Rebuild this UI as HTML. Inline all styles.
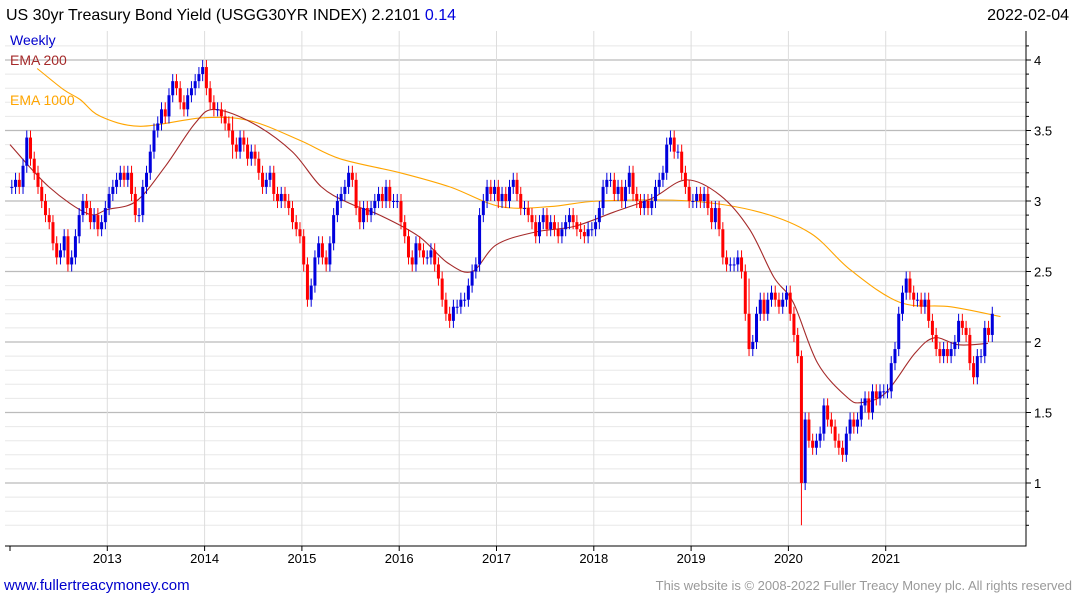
<!DOCTYPE html>
<html><head><meta charset="utf-8"><style>
body{margin:0;background:#fff;font-family:"Liberation Sans",sans-serif;}
svg{display:block}
</style></head><body>
<svg id="chart" width="1075" height="600" xmlns="http://www.w3.org/2000/svg">
<text x="6" y="20" font-size="16" fill="#000">US 30yr Treasury Bond Yield (USGG30YR INDEX) 2.2101 <tspan fill="#0000dd">0.14</tspan></text>
<text x="1069" y="20" font-size="16" text-anchor="end" fill="#000">2022-02-04</text>
<g id="grid"></g><g id="emas"></g><g id="bars"></g><g id="axes"></g>
<text x="10" y="45" font-size="14" fill="#0000cc">Weekly</text>
<text x="10" y="65" font-size="14" fill="#a52a2a">EMA 200</text>
<text x="10" y="105" font-size="14" fill="#ffa500">EMA 1000</text>
<text x="4" y="590" font-size="15" fill="#0000cc">www.fullertreacymoney.com</text>
<text x="1072" y="590" font-size="13" text-anchor="end" fill="#999">This website is © 2008-2022 Fuller Treacy Money plc. All rights reserved</text>
</svg>
<script>
const startYear = 2012.0;
const closes = [
3.1,3.15,3.1,3.25,3.45,3.3,3.2,3.1,3.0,2.9,2.85,2.7,2.6,2.65,2.75,2.55,2.6,2.75,2.9,3.0,2.95,2.85,2.9,2.8,2.85,2.95,
3.05,3.1,3.15,3.2,3.15,3.2,3.05,2.9,2.9,3.1,3.2,3.35,3.5,3.55,3.65,3.6,3.75,3.85,3.8,3.7,3.65,3.75,3.8,3.85,3.9,3.95,
3.8,3.7,3.65,3.65,3.6,3.55,3.5,3.4,3.35,3.45,3.4,3.3,3.35,3.3,3.2,3.1,3.15,3.2,3.05,3.0,3.05,3.0,2.95,2.85,2.8,2.75,
2.55,2.3,2.4,2.6,2.7,2.6,2.55,2.7,2.9,3.0,3.05,3.1,3.2,3.15,2.95,2.85,2.95,2.9,2.95,3.0,3.05,3.0,3.1,3.0,3.0,3.0,
2.85,2.75,2.6,2.55,2.7,2.65,2.6,2.6,2.65,2.55,2.45,2.3,2.2,2.15,2.25,2.25,2.3,2.3,2.4,2.5,2.55,2.9,3.0,3.1,3.05,3.1,
3.0,3.05,3.0,3.1,3.15,3.05,2.95,2.95,2.9,2.85,2.75,2.85,2.9,2.8,2.85,2.8,2.75,2.8,2.85,2.9,2.85,2.8,2.78,2.75,2.8,2.8,
2.85,2.95,3.1,3.15,3.15,3.05,3.1,3.0,3.1,3.2,3.05,3.0,2.95,3.0,2.95,3.0,3.1,3.15,3.2,3.4,3.45,3.35,3.35,3.2,3.1,3.0,
3.0,3.05,3.0,3.05,2.95,2.85,2.95,2.8,2.6,2.55,2.55,2.55,2.6,2.5,2.2,1.95,2.0,2.2,2.3,2.2,2.3,2.35,2.3,2.25,2.3,2.35,
2.2,2.05,1.9,1.0,1.45,1.3,1.25,1.3,1.35,1.55,1.45,1.4,1.3,1.25,1.2,1.35,1.45,1.4,1.45,1.55,1.6,1.5,1.65,1.6,1.65,1.65,
1.65,1.85,1.95,2.2,2.35,2.45,2.35,2.3,2.3,2.25,2.3,2.15,2.05,1.95,1.9,1.95,1.9,1.95,2.0,2.15,2.1,2.05,1.85,1.75,1.9,1.9,
2.1,2.05,2.2];
const spikeIndex = [211, 4, 59, 197];
const spikeHigh = [1.94, 3.5, 3.6, 2.45];
const spikeLow = [0.7, 3.2, 3.3, 1.9];
const ema200Dates = [2012.0,2012.4,2012.8,2013.0,2013.3,2013.6,2013.9,2014.1,2014.5,2014.9,2015.2,2015.5,2015.8,2016.2,2016.5,2016.75,2017.0,2017.4,2017.8,2018.2,2018.6,2018.95,2019.3,2019.6,2019.85,2020.05,2020.3,2020.6,2020.75,2021.0,2021.3,2021.5,2021.75,2022.05];
const ema200Vals = [3.4,3.1,2.91,2.94,3.0,3.25,3.55,3.65,3.55,3.35,3.1,2.98,2.9,2.75,2.56,2.5,2.69,2.78,2.82,2.92,3.02,3.15,3.04,2.8,2.46,2.28,1.85,1.61,1.57,1.64,1.92,2.03,1.98,1.99];
const ema1000Dates = [2012.28,2012.55,2012.72,2012.93,2013.34,2013.98,2014.46,2014.98,2015.39,2016.01,2016.52,2017.04,2017.55,2018.06,2018.99,2019.71,2020.23,2020.64,2021.15,2021.67,2022.18];
const ema1000Vals = [3.94,3.79,3.72,3.6,3.53,3.59,3.57,3.43,3.3,3.2,3.1,2.96,2.96,3.0,3.0,2.92,2.77,2.51,2.28,2.25,2.18];
const yTicks = [1,1.5,2,2.5,3,3.5,4];
const xTickYears = [2013,2014,2015,2016,2017,2018,2019,2020,2021];

const L=5,R=1026,T=31,B=546;
const X = yr => 10 + (yr-2012)*97.3;
const Y = v => 342 - (v-2)*141;
const NS='http://www.w3.org/2000/svg';
function mk(tag,attrs,parent){const e=document.createElementNS(NS,tag);for(const k in attrs)e.setAttribute(k,attrs[k]);parent.appendChild(e);return e;}
const grid=document.getElementById('grid'),axes=document.getElementById('axes'),bars=document.getElementById('bars'),emas=document.getElementById('emas');
for(let v=0.7;v<=4.2;v+=0.1){const y=Y(v);if(y<T||y>B)continue;const major=Math.abs(v*2-Math.round(v*2))<0.01;
 const g=mk('line',{x1:L,x2:R,y1:y,y2:y,stroke:major?'#bbb':'#e8e8e8','stroke-width':major?1.2:1},grid);
 
 
 const t=mk('line',{x1:R,x2:R+(major?5:3),y1:y,y2:y,stroke:'#000'},axes);
 
 }
xTickYears.forEach(yr=>{const x=X(yr);
 const g=mk('line',{x1:x,x2:x,y1:T,y2:B,stroke:'#ddd'},grid);
 
 
 const t=mk('line',{x1:x,x2:x,y1:B,y2:B+5,stroke:'#000'},axes);
 
 
 const l=mk('text',{x:x,y:B+17,'font-size':13,'text-anchor':'middle',fill:'#000'},axes);l.textContent=yr;
 
 });
const t0=mk('line',{x1:X(2012),x2:X(2012),y1:B,y2:B+5,stroke:'#000'},axes);


yTicks.forEach(v=>{const l=mk('text',{x:R+8,y:Y(v)+5,'font-size':13,fill:'#000'},axes);l.textContent=v;
 
 });
const ax=mk('path',{d:`M${L} ${B}H${R}V${T}`,fill:'none',stroke:'#000'},axes);


function pl(dates,vals,color,name){
 const P=dates.map((t,i)=>[X(t),Y(vals[i])]);
 let d='M'+P[0][0].toFixed(1)+' '+P[0][1].toFixed(1);
 for(let i=0;i<P.length-1;i++){const p0=P[Math.max(0,i-1)],p1=P[i],p2=P[i+1],p3=P[Math.min(P.length-1,i+2)];
  const c1=[p1[0]+(p2[0]-p0[0])/6,p1[1]+(p2[1]-p0[1])/6],c2=[p2[0]-(p3[0]-p1[0])/6,p2[1]-(p3[1]-p1[1])/6];
  d+=`C${c1[0].toFixed(1)} ${c1[1].toFixed(1)} ${c2[0].toFixed(1)} ${c2[1].toFixed(1)} ${p2[0].toFixed(1)} ${p2[1].toFixed(1)}`;}
 const p=mk('path',{d:d,fill:'none',stroke:color,'stroke-width':1.1},emas);
 
 }
pl(ema1000Dates,ema1000Vals,'#ffa500','ema-1000-line');
pl(ema200Dates,ema200Vals,'#a52a2a','ema-200-line');
closes.forEach((c,i)=>{const o=i?closes[i-1]:c;const t=startYear+i/26;const x=X(t)+1.8;
 let hi=Math.max(o,c)+0.05,lo=Math.min(o,c)-0.05;
 const k=spikeIndex.indexOf(i);if(k>=0){hi=spikeHigh[k];lo=spikeLow[k];}
 const col=c>=o?'#0000dd':'#ff0000';
 const w=mk('line',{x1:x,x2:x,y1:Y(hi),y2:Y(lo),stroke:col,'stroke-width':1},bars);
 
 
 const b=mk('rect',{x:x-1.5,y:Y(Math.max(o,c)),width:3,height:Math.max(1,Math.abs(Y(o)-Y(c))),fill:col},bars);
 
 });
</script>
</body></html>
